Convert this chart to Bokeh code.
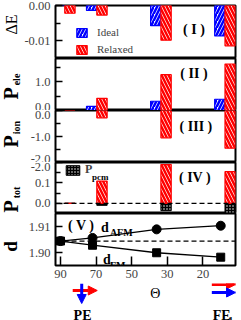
import math
from bokeh.plotting import figure
from bokeh.models import (Range1d, FixedTicker, PrintfTickFormatter, Label, Span,
                          Legend, LegendItem, Arrow, NormalHead)
from bokeh.layouts import column, row
from bokeh.embed import file_html
from bokeh.resources import INLINE

# ---------------- data ----------------
THETA = [90, 72, 36, 0]
X_TICKS = [90, 70, 50, 30, 10]
X_TICK_LABELS = ["90", "70", "50", "30", "20"]

DE_IDEAL = [0.0, -0.0014, -0.0057, -0.0086]
DE_RELAX = [-0.0022, -0.0027, -0.0098, -0.0114]
PELE_IDEAL = [0.0, 0.14, 0.32, 0.39]
PELE_RELAX = [0.0, 0.42, 1.24, 1.61]
PION_RELAX = [0.0, -0.28, -1.05, -1.45]
PTOT_RELAX = [0.0, 0.109, 0.19, 0.155]
PPCM = [0.0, -0.01, -0.036, -0.048]
D_AFM = [1.9044, 1.9056, 1.9089, 1.9103]
D_FM = [1.9044, 1.9028, 1.8999, 1.8982]
D_REF = 1.9044

# ---------------- layout / style ----------------
TOTAL_W, TOTAL_H = 241, 320
LW = 21                      # strip for the rotated axis titles
W = TOTAL_W - LW             # width of the panel column
LB, RB = 32, 6               # borders -> frame from page x 53 to 235
FRAME_L = LW + LB
FW = W - LB - RB
TOPS = [5, 58, 110, 162, 213]
HS = [53, 52, 52, 51, 52]
BOT_BORDER = 18
STRIP_H = TOTAL_H - (TOPS[-1] + HS[-1] + BOT_BORDER)
X0, X1 = 92.8, -8.3
KPX = FW / (X0 - X1)
BLUE_OFF, RED_OFF, BAR_W = 0.5, -5.3, 5.8
SERIF = "Liberation Serif"
BLUE, RED = "#0000ff", "#ff0000"

xr = Range1d(X0, X1)


def px2theta(page_x):
    return X0 - (page_x - FRAME_L) / KPX


def theta2px(t):
    return FRAME_L + (X0 - t) * KPX


def py(i, yr, page_y):
    return yr[1] - (page_y - TOPS[i]) / HS[i] * (yr[1] - yr[0])


def panel(i, yr, ticks, minor, fmt, top=0, bottom=0, xaxis=False):
    p = figure(width=W, height=HS[i] + top + bottom, x_range=xr, y_range=Range1d(*yr),
               output_backend="svg", toolbar_location=None,
               x_axis_location="below" if xaxis else None,
               min_border_left=LB, min_border_right=RB,
               min_border_top=top, min_border_bottom=bottom)
    p.grid.visible = False
    p.outline_line_color = "black"
    p.outline_line_width = 2
    p.background_fill_color = "white"
    p.border_fill_color = "white"
    ya = p.yaxis[0]
    ya.ticker = FixedTicker(ticks=ticks, minor_ticks=minor)
    ya.formatter = PrintfTickFormatter(format=fmt)
    ya.major_tick_in, ya.major_tick_out = 7, 0
    ya.minor_tick_in, ya.minor_tick_out = 5, 0
    ya.major_tick_line_width = 1.5
    ya.minor_tick_line_width = 1.5
    ya.axis_line_color = None
    ya.major_label_text_font = SERIF
    ya.major_label_text_font_size = "12.5px"
    ya.major_label_standoff = 5
    return p


def bars(p, offs, vals, color, pattern):
    return p.vbar(x=[t + offs for t in THETA], width=BAR_W, top=vals, bottom=0,
                  fill_color="white", line_color=color, line_width=1.2,
                  hatch_pattern=pattern, hatch_color=color, hatch_scale=7, hatch_weight=2.5)


def text(p, x, y, s, size, bold=False, align="left", baseline="alphabetic", angle=0.0):
    p.add_layout(Label(x=x, y=y, text=s, text_font=SERIF, text_font_size=size,
                       text_font_style="bold" if bold else "normal", text_color="black",
                       text_align=align, text_baseline=baseline, angle=angle))


ROT = math.pi / 2

# ---------- panel I ----------
yr1 = (-0.015, 0.0)
p1 = panel(0, yr1, [-0.01, 0.0], [-0.005], "%.2f", top=TOPS[0])
rb = bars(p1, BLUE_OFF, DE_IDEAL, BLUE, "/")
rr = bars(p1, RED_OFF, DE_RELAX, RED, "\\")
leg1 = Legend(items=[LegendItem(label="Ideal", renderers=[rb]),
                     LegendItem(label="Relaxed", renderers=[rr])],
              location=(20, 3), glyph_width=13, glyph_height=11, spacing=5,
              padding=0, margin=0, label_standoff=9, label_height=11,
              label_text_font=SERIF, label_text_font_size="11px",
              border_line_color=None, background_fill_alpha=0)
p1.add_layout(leg1)
text(p1, px2theta(193), py(0, yr1, 29), "( I )", "14px", True, "center", "middle")

# ---------- panel II ----------
yr2 = (0.0, 1.8)
p2 = panel(1, yr2, [0.0, 1.0], [0.5, 1.5], "%.1f")
bars(p2, BLUE_OFF, PELE_IDEAL, BLUE, "/")
bars(p2, RED_OFF, PELE_RELAX, RED, "\\")
text(p2, px2theta(193), py(1, yr2, 73), "( II )", "14px", True, "center", "middle")

# ---------- panel III ----------
yr3 = (-2.0, 0.0)
p3 = panel(2, yr3, [-2.0, -1.0, 0.0], [-1.5, -0.5], "%.1f")
bars(p3, RED_OFF, PION_RELAX, RED, "\\")
text(p3, px2theta(195), py(2, yr3, 125.5), "( III )", "14px", True, "center", "middle")

# ---------- panel IV ----------
yr4 = (-0.05, 0.2)
p4 = panel(3, yr4, [0.0, 0.1, 0.2], [0.05, 0.15], "%.1f")
p4.yaxis[0].major_label_overrides = {0.2: "-2.0"}   # lower half of the shared "-2.0" label
rk = p4.vbar(x=[t + RED_OFF for t in THETA], width=BAR_W, top=PPCM, bottom=0,
             fill_color="black", line_color="black", line_width=1,
             hatch_pattern=".", hatch_color="white", hatch_scale=3, hatch_weight=1)
bars(p4, RED_OFF, PTOT_RELAX, RED, "\\")
p4.add_layout(Span(location=0, dimension="width", line_color="black",
                   line_width=1.3, line_dash="5 3"))
leg4 = Legend(items=[LegendItem(label="P", renderers=[rk])],
              location=(9, 36), glyph_width=17, glyph_height=12, spacing=0,
              padding=0, margin=0, label_standoff=4, label_height=12,
              label_text_font=SERIF, label_text_font_size="12px",
              label_text_font_style="bold",
              border_line_color=None, background_fill_alpha=0)
p4.add_layout(leg4)
text(p4, px2theta(90), py(3, yr4, 176), "pcm", "9px", True)
text(p4, px2theta(194), py(3, yr4, 176.5), "( IV )", "14px", True, "center", "middle")

# ---------- panel V ----------
yr5 = (1.895, 1.915)
p5 = panel(4, yr5, [1.90, 1.91], [1.905], "%.2f", bottom=BOT_BORDER, xaxis=True)
xa = p5.xaxis[0]
xa.ticker = FixedTicker(ticks=X_TICKS)
xa.major_label_overrides = {t: lab for t, lab in zip(X_TICKS, X_TICK_LABELS)}
xa.major_tick_in, xa.major_tick_out = 9, 0
xa.minor_tick_in, xa.minor_tick_out = 0, 0
xa.major_tick_line_width = 1.5
xa.axis_line_color = None
xa.major_label_text_font = SERIF
xa.major_label_text_font_size = "12.5px"
xa.major_label_standoff = 4
p5.add_layout(Span(location=D_REF, dimension="width", line_color="black",
                   line_width=1.3, line_dash="5 3"))
p5.line(THETA, D_FM, line_color="black", line_width=1.3)
p5.scatter(THETA, D_FM, marker="square", size=8, color="black")
p5.line(THETA, D_AFM, line_color="black", line_width=1.3)
p5.scatter(THETA, D_AFM, marker="circle", size=9, color="black")
text(p5, px2theta(79), py(4, yr5, 225), "( V )", "14px", True, "center", "middle")
text(p5, px2theta(99), py(4, yr5, 226.5), "d", "14px", True)
text(p5, px2theta(108), py(4, yr5, 232), "AFM", "10px", True)
text(p5, px2theta(101), py(4, yr5, 259), "d", "14px", True)
text(p5, px2theta(108), py(4, yr5, 265), "FM", "10px", True)

# ---------- bottom strip: Θ label and polarisation arrows ----------
S0 = TOTAL_H - STRIP_H
p6 = figure(width=W, height=STRIP_H, x_range=Range1d(LW, TOTAL_W),
            y_range=Range1d(TOTAL_H, S0),
            output_backend="svg", toolbar_location=None,
            x_axis_location=None, y_axis_location=None, min_border=0)
p6.grid.visible = False
p6.outline_line_color = None

pe, fe = theta2px(THETA[0]), theta2px(THETA[-1])


def arrow(p, x0, y0, x1, y1, c):
    p.add_layout(Arrow(end=NormalHead(size=9, fill_color=c, line_color=c, line_width=1),
                       x_start=x0, y_start=y0, x_end=x1, y_end=y1,
                       line_color=c, line_width=3))


arrow(p6, pe - 16, 290, pe + 14, 290, RED)
arrow(p6, pe - 5, S0, pe - 5, 303, BLUE)
arrow(p6, fe - 8, 284, fe + 21, 284, RED)
arrow(p6, fe - 8, 292, fe + 21, 292, BLUE)
text(p6, FRAME_L + FW / 2 - 1, 292.5, "Θ", "14px", False, "center", "middle")
text(p6, pe - 4, 315, "PE", "14px", True, "center")
text(p6, fe - 7, 315, "FE", "14px", True, "left")
text(p6, fe + 12, 319.5, "1", "10px", True, "left")

# ---------- left strip: rotated axis titles (centred on their ink boxes) ----------
pl = figure(width=LW, height=TOTAL_H, x_range=Range1d(0, LW), y_range=Range1d(0, TOTAL_H),
            output_backend="svg", toolbar_location=None,
            x_axis_location=None, y_axis_location=None, min_border=0)
pl.grid.visible = False
pl.outline_line_color = None


def up(page_y):
    return TOTAL_H - page_y


text(pl, 11, up(24), "ΔE", "16px", False, "center", "middle", ROT)
for (pc, sc, sub) in [(93, 79, "ele"), (141, 127, "ion"), (206, 192, "tot")]:
    text(pl, 10, up(pc), "P", "20px", True, "center", "middle", ROT)
    text(pl, 16, up(sc), sub, "10px", True, "center", "middle", ROT)
text(pl, 9.5, up(246), "d", "19px", True, "center", "middle", ROT)

layout = row(pl, column(p1, p2, p3, p4, p5, p6, spacing=0), spacing=0)
open("out.html", "w").write(file_html(layout, INLINE))
